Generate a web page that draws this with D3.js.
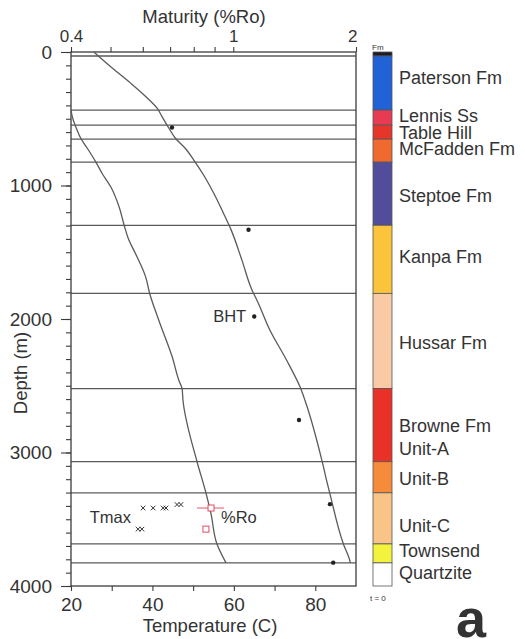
<!DOCTYPE html>
<html><head><meta charset="utf-8">
<script src="https://cdn.jsdelivr.net/npm/d3@7"></script>
<style>
body{margin:0;background:#fff}
svg{display:block}
text{font-family:"Liberation Sans",Arial,Helvetica,sans-serif;fill:#333}
</style>
</head><body>
<svg id="c" width="525" height="639"></svg>
<script>
// ---------- data ----------
const depthTicks = [0, 1000, 2000, 3000, 4000];
const tempTicks = [20, 40, 60, 80];
const tempMinorTicks = [30, 50, 70];
const roTicks = [0.4, 1, 2];
const roMinorTicks = [0.5, 0.6, 0.7, 0.8, 0.9];

const formationNames = ["", "Paterson Fm", "Lennis Ss", "Table Hill", "McFadden Fm", "Steptoe Fm", "Kanpa Fm", "Hussar Fm", "Browne Fm Unit-A", "Unit-B", "Unit-C", "Townsend", "Quartzite"];
const formationTops  = [0, 30, 435, 548, 653, 825, 1298, 1808, 2521, 3069, 3302, 3685, 3827];
const formationBases = [30, 435, 548, 653, 825, 1298, 1808, 2521, 3069, 3302, 3685, 3827, 4000];
const formationColors = ["#1b1b2a", "#2162d6", "#e83a52", "#e6352b", "#f0692f", "#514d9a", "#fbc43a", "#f8caa6", "#ea3128", "#f58b3b", "#f8c487", "#f3f23c", "#ffffff"];
const labelTexts  = ["Paterson Fm", "Lennis Ss", "Table Hill", "McFadden Fm", "Steptoe Fm", "Kanpa Fm", "Hussar Fm", "Browne Fm", "Unit-A", "Unit-B", "Unit-C", "Townsend", "Quartzite"];
const labelDepths = [190, 478, 605, 727, 1080, 1537, 2175, 2797, 2970, 3195, 3547, 3735, 3900];

// modelled temperature (C) vs depth (m)
const tempModelDepth = [0, 122, 235, 335, 423, 486, 573, 648, 723, 811, 923, 1060, 1211, 1323, 1561, 1786, 1861, 2086, 2311, 2512, 2612, 3069, 3212, 3310, 3685, 3812, 3827];
const tempModelValue = [25.6, 30.2, 34.7, 38.4, 41.2, 42.4, 44.1, 45.7, 48.1, 50.2, 52.6, 55.1, 57.5, 59.2, 62.0, 64.5, 65.7, 68.9, 73.0, 76.3, 77.5, 81.7, 82.8, 83.6, 86.9, 88.5, 88.6];

// modelled maturity (%Ro) vs depth (m)
const roModelDepth = [435, 486, 585, 648, 723, 823, 910, 1011, 1161, 1298, 1411, 1511, 1686, 1811, 2011, 2287, 2462, 2522, 2612, 3069, 3302, 3460, 3685, 3827];
const roModelValue = [0.400, 0.403, 0.414, 0.423, 0.439, 0.460, 0.477, 0.501, 0.525, 0.540, 0.555, 0.576, 0.610, 0.624, 0.657, 0.709, 0.736, 0.749, 0.753, 0.815, 0.857, 0.882, 0.912, 0.960];

// bottom-hole temperatures
const bhtDepth = [565, 1331, 1981, 2757, 3387, 3825];
const bhtTemp  = [44.8, 63.6, 65.0, 76.0, 83.6, 84.4];

// Tmax (as %Ro equivalent)
const tmaxDepth = [3416, 3416, 3416, 3416, 3390, 3390, 3574, 3574];
const tmaxRo    = [0.601, 0.636, 0.673, 0.684, 0.728, 0.744, 0.584, 0.597];

// measured %Ro
const roDepth   = [3416, 3574];
const roValue   = [0.882, 0.857];
const roErrLow  = [0.815, null];
const roErrHigh = [0.949, null];

// ---------- layout ----------
const svg = d3.select("#c");
const L = 71, R = 356, T = 52, B = 586;
const y = d3.scaleLinear().domain([0, 4000]).range([T, B]);
const xT = d3.scaleLinear().domain([20, 90]).range([L, R]);
const xRo = d3.scaleLog().domain([0.4, 2]).range([L, R]);
const ink = "#3c3c3c", lineCol = "#5a5a5a";

svg.append("rect").attr("width", 525).attr("height", 639).attr("fill", "#fff");

// horizons
svg.append("g").selectAll("line").data(formationTops.slice(1)).join("line")
  .attr("x1", L).attr("x2", R).attr("y1", d => y(d)).attr("y2", d => y(d))
  .attr("stroke", lineCol).attr("stroke-width", 1.3);

// frame
svg.append("rect").attr("x", L).attr("y", T).attr("width", R - L).attr("height", B - T)
  .attr("fill", "none").attr("stroke", ink).attr("stroke-width", 1.3);

function styleAxis(g) {
  g.select(".domain").remove();
  g.selectAll("line").attr("stroke", ink).attr("stroke-width", 1.1);
  g.selectAll("text").attr("fill", "#333").style("font-size", "19px").attr("font-family", null);
}

// left axis
svg.append("g").attr("transform", `translate(${L},0)`)
  .call(d3.axisLeft(y).tickValues(y.ticks(40)).tickSize(5).tickFormat(""))
  .call(styleAxis);
svg.append("g").attr("transform", `translate(${L},0)`)
  .call(d3.axisLeft(y).tickValues(depthTicks).tickSize(10).tickPadding(9).tickFormat(d3.format("d")))
  .call(styleAxis);

// bottom axis
svg.append("g").attr("transform", `translate(0,${B})`)
  .call(d3.axisBottom(xT).tickValues(tempMinorTicks).tickSize(5).tickFormat(""))
  .call(styleAxis);
svg.append("g").attr("transform", `translate(0,${B})`)
  .call(d3.axisBottom(xT).tickValues(tempTicks).tickSize(5).tickPadding(7).tickFormat(d3.format("d")))
  .call(styleAxis);

// top axis
svg.append("g").attr("transform", `translate(0,${T})`)
  .call(d3.axisTop(xRo).tickValues(roMinorTicks).tickSize(5).tickFormat(""))
  .call(styleAxis);
const topAx = svg.append("g").attr("transform", `translate(0,${T})`)
  .call(d3.axisTop(xRo).tickValues(roTicks).tickSize(5).tickPadding(5).tickFormat(d => String(d)))
  .call(styleAxis);
topAx.selectAll("text").style("font-size", "17px");
topAx.selectAll("text").filter(d => d === 2).attr("text-anchor", "end").attr("dx", 1);

// titles
svg.append("text").attr("x", 204).attr("y", 23).attr("text-anchor", "middle").style("font-size", "18.5px").text("Maturity (%Ro)");
svg.append("text").attr("x", 210).attr("y", 632).attr("text-anchor", "middle").style("font-size", "18.5px").text("Temperature (C)");
svg.append("text").attr("transform", "translate(27,373) rotate(-90)").attr("text-anchor", "middle").style("font-size", "18.5px").text("Depth (m)");

// curves
const tempLine = d3.line().x(d => xT(d[1])).y(d => y(d[0])).curve(d3.curveMonotoneY);
svg.append("path").attr("d", tempLine(d3.zip(tempModelDepth, tempModelValue)))
  .attr("fill", "none").attr("stroke", lineCol).attr("stroke-width", 1.3);
const roLine = d3.line().x(d => xRo(d[1])).y(d => y(d[0])).curve(d3.curveMonotoneY);
svg.append("path").attr("d", roLine(d3.zip(roModelDepth, roModelValue)))
  .attr("fill", "none").attr("stroke", lineCol).attr("stroke-width", 1.3);

// BHT dots
svg.append("g").selectAll("circle").data(d3.zip(bhtDepth, bhtTemp)).join("circle")
  .attr("cx", d => xT(d[1])).attr("cy", d => y(d[0])).attr("r", 2.2).attr("fill", "#222");
svg.append("text").attr("x", xT(bhtTemp[2]) - 8).attr("y", y(bhtDepth[2])).attr("dy", "0.35em")
  .attr("text-anchor", "end").style("font-size", "16.5px").text("BHT");

// Tmax crosses
svg.append("g").selectAll("path").data(d3.zip(tmaxDepth, tmaxRo)).join("path")
  .attr("transform", d => `translate(${xRo(d[1])},${y(d[0])})`)
  .attr("d", "M-2.3,-2.3L2.3,2.3M-2.3,2.3L2.3,-2.3")
  .attr("stroke", "#333").attr("stroke-width", 1);
svg.append("text").attr("x", xRo(d3.min(tmaxRo)) - 7).attr("y", y(tmaxDepth[0])).attr("dy", "0.9em")
  .attr("text-anchor", "end").style("font-size", "16.5px").text("Tmax");

// measured %Ro
svg.append("g").selectAll("line").data(d3.zip(roDepth, roErrLow, roErrHigh).filter(d => d[1] != null)).join("line")
  .attr("x1", d => xRo(d[1])).attr("x2", d => xRo(d[2])).attr("y1", d => y(d[0])).attr("y2", d => y(d[0]))
  .attr("stroke", "#e8506a").attr("stroke-width", 1);
svg.append("g").selectAll("rect").data(d3.zip(roDepth, roValue)).join("rect")
  .attr("x", d => xRo(d[1]) - 3).attr("y", d => y(d[0]) - 3).attr("width", 6).attr("height", 6)
  .attr("fill", "#fff").attr("stroke", "#e04a66").attr("stroke-width", 1);
svg.append("text").attr("x", xRo(roValue[0]) + 10).attr("y", y(roDepth[0])).attr("dy", "0.9em")
  .style("font-size", "16.5px").text("%Ro");

// legend column
const LX = 373, LW = 19;
svg.append("g").selectAll("rect").data(d3.range(formationNames.length)).join("rect")
  .attr("x", LX).attr("y", i => y(formationTops[i])).attr("width", LW)
  .attr("height", i => y(formationBases[i]) - y(formationTops[i]))
  .attr("fill", i => formationColors[i]).attr("stroke", "#555").attr("stroke-width", 0.8);
svg.append("g").selectAll("text").data(d3.zip(labelTexts, labelDepths)).join("text")
  .attr("x", 399).attr("y", d => y(d[1])).attr("dy", "0.35em")
  .style("font-size", "18px").text(d => d[0]);
svg.append("text").attr("x", 372).attr("y", 50).style("font-size", "8px").attr("fill", "#555").text("Fm");
svg.append("text").attr("x", 370).attr("y", 601).style("font-size", "8px").attr("fill", "#555").text("t = 0");

// panel letter
svg.append("text").attr("x", 456).attr("y", 637).style("font-size", "54px").style("font-weight", "bold")
  .attr("fill", "#222").text("a");
</script>
</body></html>
